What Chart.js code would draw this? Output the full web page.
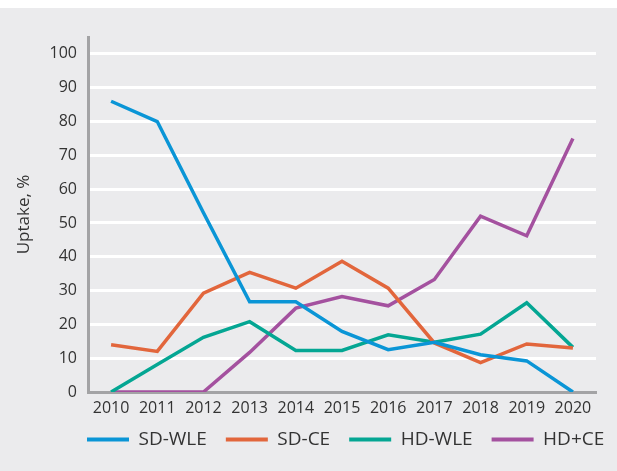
<!DOCTYPE html>
<html lang="en">
<head>
  <meta charset="UTF-8" />
  <title>Uptake by year</title>
  <script src="https://cdn.jsdelivr.net/npm/chart.js"></script>
  <style>
    html, body {
      margin: 0;
      padding: 0;
      background: #ffffff;
    }
    .panel {
      position: absolute;
      top: 8px;
      left: 0;
      width: 617px;
      height: 463px;
      background: #ebebed;
    }
  </style>
</head>
<body>
  <div class="panel">
    <canvas id="uptakeChart"></canvas>
  </div>
  <script>
    const years = ['2010', '2011', '2012', '2013', '2014', '2015', '2016', '2017', '2018', '2019', '2020'];
    const sdWle = [86, 80, 53, 26.7, 26.7, 17.9, 12.5, 14.7, 11, 9.2, 0];
    const sdCe = [14, 12, 29.2, 35.4, 30.7, 38.7, 30.7, 14.5, 8.7, 14.2, 13];
    const hdWle = [0, 8.1, 16.2, 20.8, 12.3, 12.3, 16.9, 14.7, 17.1, 26.4, 13.2];
    const hdCe = [0, 0, 0, 11.7, 24.8, 28.2, 25.5, 33.3, 52, 46.2, 75];
    const yTicks = [0, 10, 20, 30, 40, 50, 60, 70, 80, 90, 100];

    const textColor = '#333333';
    const axisGray = '#a3a3a5';

    const line = (label, data, color) => ({
      label: label,
      data: data,
      borderColor: color,
      backgroundColor: color,
      borderWidth: 3.5,
      pointRadius: 0,
      tension: 0,
      fill: false
    });

    // legend starts under the plot's left edge (not centred on the canvas)
    // and sits a little closer to the year labels
    const legendShift = {
      id: 'legendShift',
      afterLayout(chart) {
        const lg = chart.legend;
        if (!lg || !lg.lineWidths) return;
        const p = lg.options.labels.padding;
        const start = chart.chartArea.left - 1;
        lg.left = start - p;
        lg.right = start + lg.lineWidths[0];
        lg.top -= 11;
        lg.bottom -= 11;
      }
    };

    new Chart(document.getElementById('uptakeChart'), {
      type: 'line',
      data: {
        labels: years,
        datasets: [
          line('SD-WLE', sdWle, '#0a95d6'),
          line('SD-CE', sdCe, '#e2663c'),
          line('HD-WLE', hdWle, '#04a693'),
          line('HD+CE', hdCe, '#a4519f')
        ]
      },
      plugins: [legendShift],
      options: {
        responsive: true,
        maintainAspectRatio: false,
        animation: false,
        layout: { padding: { top: 29, right: 21, bottom: 1, left: 0 } },
        plugins: {
          tooltip: { enabled: false },
          legend: {
            position: 'bottom',
            labels: {
              color: textColor,
              boxWidth: 42,
              boxHeight: 4,
              padding: 19,
              font: { family: 'Open Sans', size: 19 },
              generateLabels: (chart) => {
                const items = Chart.defaults.plugins.legend.labels.generateLabels(chart);
                items.forEach(it => { it.lineWidth = 0; it.fillStyle = it.strokeStyle; });
                return items;
              }
            }
          }
        },
        scales: {
          x: {
            offset: true,
            afterFit: (axis) => { axis.height = 30; },
            grid: { display: false, drawTicks: false },
            border: { display: true, color: axisGray, width: 3 },
            ticks: {
              color: textColor,
              padding: 7,
              maxRotation: 0,
              autoSkip: false,
              font: { family: 'Open Sans', size: 16 }
            }
          },
          y: {
            min: 0,
            max: 105,
            afterBuildTicks: (axis) => { axis.ticks = yTicks.map(v => ({ value: v })); },
            afterFit: (axis) => { axis.width = 88; },
            grid: { color: '#ffffff', lineWidth: 3, drawTicks: false },
            border: { display: true, color: axisGray, width: 3 },
            ticks: {
              color: textColor,
              padding: 11,
              font: { family: 'Open Sans', size: 16 }
            },
            title: {
              display: true,
              text: 'Uptake, %',
              color: textColor,
              padding: { top: 14, bottom: 0 },
              font: { family: 'Open Sans', size: 17 }
            }
          }
        }
      }
    });
  </script>
</body>
</html>
